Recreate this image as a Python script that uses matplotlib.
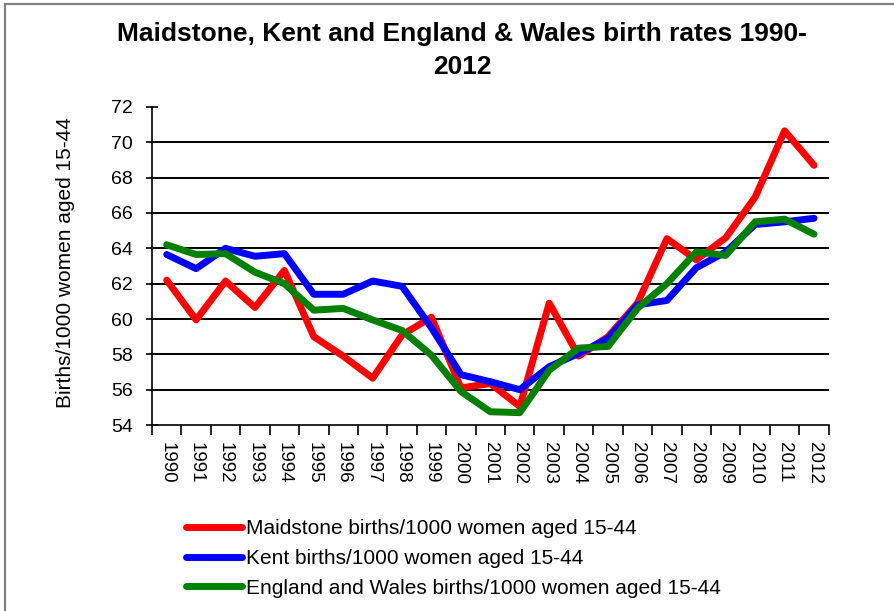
import matplotlib
matplotlib.use("Agg")
import matplotlib.pyplot as plt
from matplotlib.patches import Rectangle
from matplotlib.ticker import FixedLocator

# Birth rates per 1000 women aged 15-44
years = [str(y) for y in range(1990, 2013)]
maidstone = [62.2, 59.95, 62.15, 60.65, 62.75, 59.0, 57.9, 56.65, 59.1, 60.1,
             56.1, 56.35, 55.05, 60.9, 57.9, 59.0, 60.9, 64.55, 63.35, 64.6,
             66.9, 70.65, 68.7]
kent = [63.65, 62.85, 64.0, 63.55, 63.7, 61.4, 61.4, 62.15, 61.85, 59.5,
        56.85, 56.45, 56.0, 57.3, 58.05, 58.9, 60.8, 61.05, 62.9, 63.8,
        65.35, 65.5, 65.7]
eng_wales = [64.2, 63.65, 63.7, 62.65, 62.0, 60.5, 60.6, 59.95, 59.35, 57.95,
             55.9, 54.75, 54.7, 57.1, 58.35, 58.45, 60.6, 62.0, 63.8, 63.6,
             65.5, 65.65, 64.8]

series = [
    ("Maidstone births/1000 women aged 15-44", maidstone, "#ff0000"),
    ("Kent births/1000 women aged 15-44", kent, "#0000ff"),
    ("England and Wales births/1000 women aged 15-44", eng_wales, "#008000"),
]

plt.rcParams["font.family"] = ["Liberation Sans", "DejaVu Sans"]

fig = plt.figure(figsize=(8.94, 6.11), dpi=100)
ax = fig.add_axes([0.170, 0.3044, 0.757, 0.5205])

# gray chart border (only top and left visible in the crop)
fig.patches.append(Rectangle((5 / 894, -0.1), 1.2, 1.1 - 4 / 611,
                             transform=fig.transFigure, fill=False,
                             edgecolor="#808080", linewidth=1.6))

x = list(range(len(years)))
for label, vals, color in series:
    ax.plot(x, vals, color=color, linewidth=5, label=label,
            solid_capstyle="round", solid_joinstyle="round")

for g in range(56, 72, 2):
    ax.axhline(g, color="black", linewidth=1.4, zorder=0)

ax.set_xlim(-0.5, len(years) - 0.5)
ax.set_ylim(54, 72)
ax.set_yticks(range(54, 73, 2))

ax.xaxis.set_major_locator(FixedLocator([i - 0.5 for i in range(len(years) + 1)]))
ax.xaxis.set_minor_locator(FixedLocator(x))
ax.set_xticklabels([], minor=False)
ax.set_xticklabels(years, minor=True, rotation=-90, fontsize=13.5)
ax.tick_params(axis="x", which="major", direction="out", length=7, width=1.2)
ax.tick_params(axis="x", which="minor", length=0, pad=12)
ax.tick_params(axis="y", direction="inout", length=9, width=1.2, labelsize=14, pad=9)

for side in ("top", "right"):
    ax.spines[side].set_visible(False)
for side in ("left", "bottom"):
    ax.spines[side].set_linewidth(1.2)

fig.text(66 / 894, 1 - 263 / 611, "Births/1000 women aged 15-44", rotation=90,
         ha="center", va="center", fontsize=15)

fig.text(0.517, 1 - 34 / 611, "Maidstone, Kent and England & Wales birth rates 1990-",
         ha="center", va="center", fontsize=19, fontweight="bold")
fig.text(0.517, 1 - 67 / 611, "2012", ha="center", va="center", fontsize=19,
         fontweight="bold")

fig.legend(loc="upper left", bbox_to_anchor=(186 / 894, 1 - 519 / 611), frameon=False,
           prop={"size": 15}, handlelength=2.7, handletextpad=0.2,
           labelspacing=0.52, borderpad=0, borderaxespad=0)

fig.savefig("out.png", dpi=100)
